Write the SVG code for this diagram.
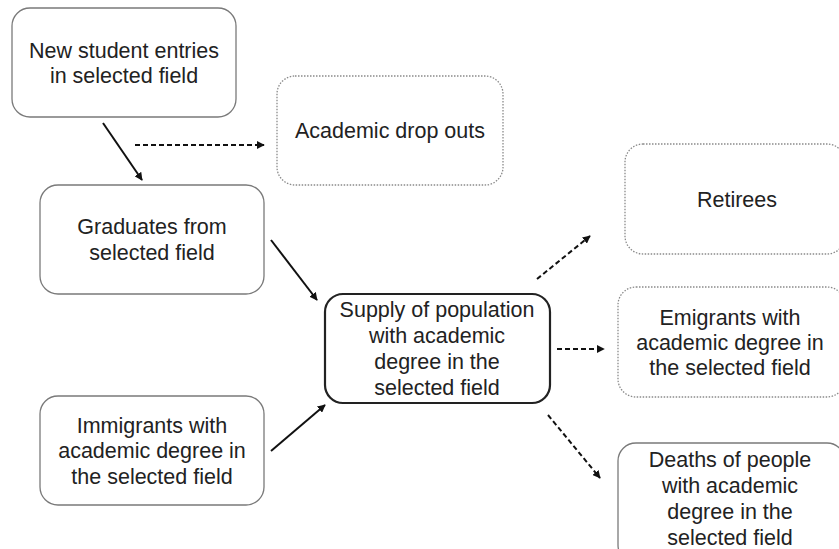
<svg xmlns="http://www.w3.org/2000/svg" width="839" height="549" viewBox="0 0 839 549">
<defs>
<marker id="ah" viewBox="0 0 10 10" refX="9" refY="5" markerWidth="8" markerHeight="8" markerUnits="userSpaceOnUse" orient="auto">
<path d="M0,0 L10,5 L0,10 z" fill="#111"/>
</marker>
</defs>
<style>
.box{fill:#fff;stroke:#7a7a7a;stroke-width:1.3}
.dot{fill:#fff;stroke:#8a8a8a;stroke-width:1.3;stroke-dasharray:1.5 1.5}
.main{fill:#fff;stroke:#222;stroke-width:2.2}
text{font-family:"Liberation Sans",Arial,sans-serif;font-size:21.5px;fill:#222;text-anchor:middle}
.solid{stroke:#111;stroke-width:2;fill:none;marker-end:url(#ah)}
.dash{stroke:#111;stroke-width:2;fill:none;stroke-dasharray:5 3;marker-end:url(#ah)}
</style>
<rect width="839" height="549" fill="#fff"/>
<g id="new-entries">
<rect class="box" x="12" y="8" width="224" height="109" rx="18"/>
<text x="124" y="58">New student entries</text>
<text x="124" y="83">in selected field</text>
</g>
<g id="dropouts">
<rect class="dot" x="277" y="76" width="226" height="109" rx="18"/>
<text x="390" y="138">Academic drop outs</text>
</g>
<g id="graduates">
<rect class="box" x="40" y="185" width="224" height="109" rx="18"/>
<text x="152" y="234">Graduates from</text>
<text x="152" y="260">selected field</text>
</g>
<g id="supply">
<rect class="main" x="325" y="294" width="225" height="109" rx="18"/>
<text x="437" y="317">Supply of population</text>
<text x="437" y="343">with academic</text>
<text x="437" y="369">degree in the</text>
<text x="437" y="395">selected field</text>
</g>
<g id="immigrants">
<rect class="box" x="40" y="396" width="224" height="109" rx="18"/>
<text x="152" y="433">Immigrants with</text>
<text x="152" y="458">academic degree in</text>
<text x="152" y="484">the selected field</text>
</g>
<g id="retirees">
<rect class="dot" x="625" y="144" width="220" height="110" rx="18"/>
<text x="737" y="207">Retirees</text>
</g>
<g id="emigrants">
<rect class="dot" x="618" y="287" width="227" height="110" rx="18"/>
<text x="730" y="325">Emigrants with</text>
<text x="730" y="350">academic degree in</text>
<text x="730" y="375">the selected field</text>
</g>
<g id="deaths">
<rect class="box" x="618" y="443" width="227" height="120" rx="18"/>
<text x="730" y="467">Deaths of people</text>
<text x="730" y="493">with academic</text>
<text x="730" y="519">degree in the</text>
<text x="730" y="545">selected field</text>
</g>
<g id="connectors">
<line class="solid" x1="103" y1="123" x2="142" y2="180"/>
<line class="dash" x1="135" y1="145" x2="264" y2="145"/>
<line class="solid" x1="271" y1="240" x2="317" y2="300"/>
<line class="solid" x1="271" y1="451" x2="325" y2="405"/>
<line class="dash" x1="537" y1="279" x2="590" y2="236"/>
<line class="dash" x1="557" y1="349" x2="604" y2="349"/>
<line class="dash" x1="548" y1="415" x2="600" y2="478"/>
</g>
</svg>
